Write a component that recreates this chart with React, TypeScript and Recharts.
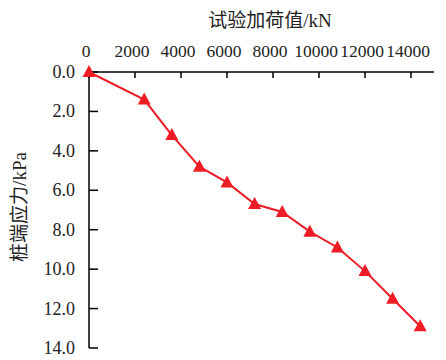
import React from 'react';
import { LineChart, Line, XAxis, YAxis } from 'recharts';

const loads = [0, 2400, 3600, 4800, 6000, 7200, 8400, 9600, 10800, 12000, 13200, 14400];
const stress = [0, 1.4, 3.2, 4.8, 5.6, 6.7, 7.1, 8.1, 8.9, 10.1, 11.5, 12.9];
const xTicks = [0, 2000, 4000, 6000, 8000, 10000, 12000, 14000];
const yTicks = [0, 2, 4, 6, 8, 10, 12, 14];

const data = loads.map((load, i) => ({ load, stress: stress[i] }));

const FONT = 'Liberation Serif, Noto Sans CJK SC';
const RED = '#ee1c25';
const TEXT = '#222';

const Triangle = (props: any) => {
  const { cx, cy } = props;
  if (cx == null || cy == null) return null;
  return (
    <polygon
      points={`${cx},${cy - 7} ${cx - 6.5},${cy + 5} ${cx + 6.5},${cy + 5}`}
      fill={RED}
    />
  );
};

const XTick = (props: any) => {
  const { x, y, payload } = props;
  return (
    <text x={x - 3} y={y} textAnchor="middle" fill={TEXT} fontSize={17.5} fontFamily={FONT}>
      {payload.value}
    </text>
  );
};

const YTick = (props: any) => {
  const { x, y, payload } = props;
  return (
    <text x={x} y={y + 6} textAnchor="end" fill={TEXT} fontSize={18} fontFamily={FONT}>
      {Number(payload.value).toFixed(1)}
    </text>
  );
};

export default function App() {
  return (
    <div style={{ position: 'absolute', left: 0, top: 0 }}>
      <LineChart
        width={446}
        height={360}
        data={data}
        margin={{ top: 32, right: 12, bottom: 12, left: 39 }}
      >
        <XAxis
          dataKey="load"
          type="number"
          orientation="top"
          domain={[0, 15000]}
          ticks={xTicks}
          interval={0}
          height={40}
          tickSize={-6}
          tickMargin={21.5}
          axisLine={{ stroke: '#000', strokeWidth: 1.5 }}
          tickLine={{ stroke: '#000', strokeWidth: 1.5 }}
          tick={<XTick />}
          label={() => (
            <text x={270} y={27} textAnchor="middle" fill={TEXT} fontSize={19} fontFamily={FONT}>
              试验加荷值/kN
            </text>
          )}
        />
        <YAxis
          dataKey="stress"
          type="number"
          reversed
          domain={[0, 14]}
          ticks={yTicks}
          interval={0}
          width={50}
          tickSize={-9}
          tickMargin={23}
          axisLine={{ stroke: '#000', strokeWidth: 1.5 }}
          tickLine={{ stroke: '#000', strokeWidth: 1.5 }}
          tick={<YTick />}
          label={() => (
            <text
              x={20}
              y={207}
              textAnchor="middle"
              dy={6}
              transform="rotate(-90 20 207)"
              fill={TEXT}
              fontSize={19}
              fontFamily={FONT}
            >
              桩端应力/kPa
            </text>
          )}
        />
        <Line
          dataKey="stress"
          stroke={RED}
          strokeWidth={2}
          dot={<Triangle />}
          activeDot={false}
          isAnimationActive={false}
        />
      </LineChart>
    </div>
  );
}
